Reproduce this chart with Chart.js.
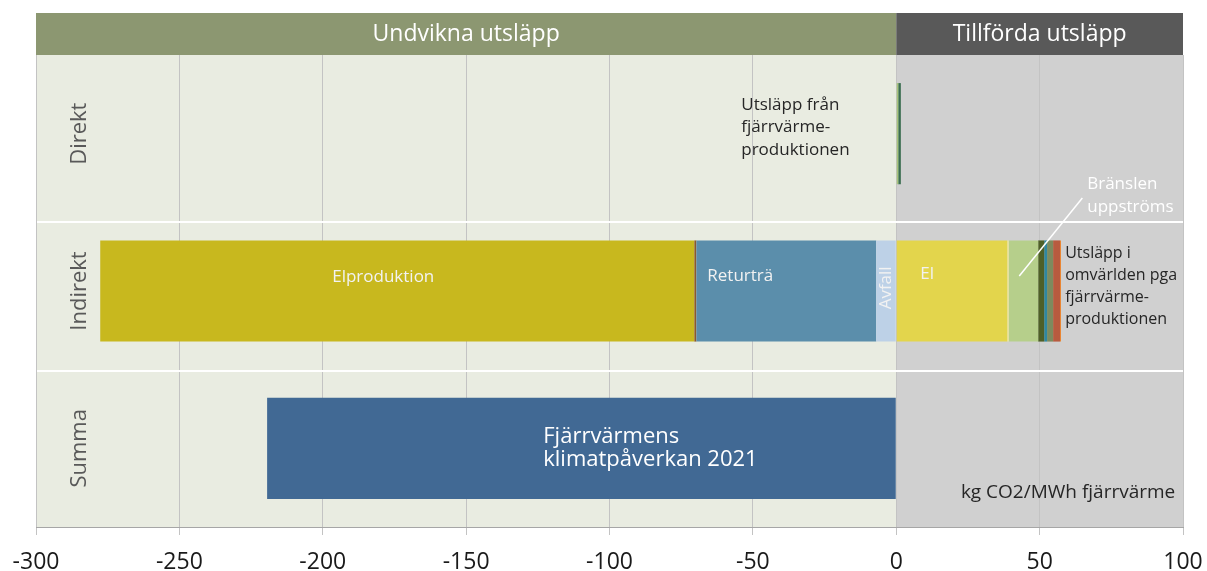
<!DOCTYPE html>
<html lang="sv">
<head>
<meta charset="UTF-8" />
<title>Fjärrvärmens klimatpåverkan 2021</title>
<script src="https://cdn.jsdelivr.net/npm/chart.js"></script>
<style>
  html, body { margin: 0; padding: 0; background: #fff; }
  #wrap { width: 1207px; height: 571px; }
</style>
</head>
<body>
<div id="wrap"><canvas id="chart"></canvas></div>
<script>
// Kategorier (rader)
const categories = ['Direkt', 'Indirekt', 'Summa'];

// Värden i kg CO2/MWh fjärrvärme, en plats per rad
const direktBio      = [0.7, null, null];
const direktFossil   = [0.9, null, null];
const avfall         = [null, -7.0, null];
const returtra       = [null, -62.7, null];
const ovrigtUndvikna = [null, -0.7, null];
const elproduktion   = [null, -207.2, null];
const el             = [null, 38.7, null];
const elOvrigt       = [null, 0.5, null];
const branslen       = [null, 10.3, null];
const ovrigt1        = [null, 2.1, null];
const ovrigt2        = [null, 1.0, null];
const ovrigt3        = [null, 2.1, null];
const ovrigt4        = [null, 2.4, null];
const ovrigt5        = [null, 0.35, null];
const summa          = [null, null, -219.4];

// x-axelns skala
const xMin = -300, xMax = 100, xStep = 50;

const FONT = "'Open Sans', 'Noto Sans', sans-serif";

function ds(label, data, color) {
  return { label, data, backgroundColor: color, borderWidth: 0,
           barPercentage: 0.643, categoryPercentage: 1.0 };
}

// bakgrund, rubrikband, radetiketter och texter
const decor = {
  id: 'decor',
  beforeDraw(chart) {
    const { ctx, chartArea: a, scales: { x } } = chart;
    const x0 = x.getPixelForValue(0);
    ctx.save();
    ctx.fillStyle = '#e9ece1';
    ctx.fillRect(a.left, a.top, x0 - a.left, a.bottom - a.top);
    ctx.fillStyle = '#d0d0d0';
    ctx.fillRect(x0, a.top, a.right - x0, a.bottom - a.top);
    // rubrikband
    const hTop = a.top - 42;
    ctx.fillStyle = '#8c9771';
    ctx.fillRect(a.left, hTop, x0 - a.left, 42);
    ctx.fillStyle = '#595959';
    ctx.fillRect(x0, hTop, a.right - x0, 42);
    ctx.fillStyle = '#ffffff';
    ctx.font = '23px ' + FONT;
    ctx.textAlign = 'center';
    ctx.textBaseline = 'middle';
    ctx.fillText('Undvikna utsläpp', (a.left + x0) / 2, hTop + 21);
    ctx.fillText('Tillförda utsläpp', (x0 + a.right) / 2, hTop + 21);
    ctx.restore();
  },
  afterDatasetsDraw(chart) {
    const { ctx, chartArea: a, scales: { x, y } } = chart;
    ctx.save();
    // vita avdelare mellan raderna
    ctx.strokeStyle = '#ffffff';
    ctx.lineWidth = 2;
    [0.561, 1.508].forEach(v => {
      const py = Math.round(y.getPixelForValue(v));
      ctx.beginPath();
      ctx.moveTo(a.left + 1, py);
      ctx.lineTo(a.right, py);
      ctx.stroke();
    });
    // radetiketter, roterade
    ctx.fillStyle = '#595959';
    ctx.font = '22px ' + FONT;
    ctx.textAlign = 'center';
    ctx.textBaseline = 'middle';
    categories.forEach((c, i) => {
      ctx.save();
      ctx.translate(a.left + 44, y.getPixelForValue(i));
      ctx.rotate(-Math.PI / 2);
      ctx.fillText(c, 0, 0);
      ctx.restore();
    });

    function text(lines, xv, yv, opts) {
      ctx.fillStyle = opts.color;
      ctx.font = (opts.size || 17) + 'px ' + FONT;
      ctx.textAlign = opts.align || 'left';
      ctx.textBaseline = 'middle';
      const px = x.getPixelForValue(xv);
      const py = y.getPixelForValue(yv);
      lines.forEach((l, k) => ctx.fillText(l, px, py + k * (opts.lh || 22.5)));
    }
    text(['Elproduktion'], -178.9, 0.911, { color: '#f2f2f2', align: 'center' });
    text(['Returträ'], -54.4, 0.905, { color: '#f2f2f2', align: 'center' });
    text(['El'], 10.8, 0.89, { color: '#f2f2f2', align: 'center' });
    text(['Utsläpp från', 'fjärrvärme-', 'produktionen'], -54.05, -0.182, { color: '#262626' });
    text(['Bränslen', 'uppströms'], 66.6, 0.32, { color: '#ffffff', lh: 23 });
    text(['Utsläpp i', 'omvärlden pga', 'fjärrvärme-', 'produktionen'], 58.9, 0.764, { color: '#262626', size: 16, lh: 22 });
    text(['Fjärrvärmens', 'klimatpåverkan 2021'], -123.1, 1.928, { color: '#ffffff', size: 22, lh: 23 });
    text(['kg CO2/MWh fjärrvärme'], 97.3, 2.284, { color: '#262626', size: 19, align: 'right' });

    // Avfall, roterad
    ctx.save();
    ctx.fillStyle = '#f2f2f2';
    ctx.font = '17px ' + FONT;
    ctx.textAlign = 'center';
    ctx.textBaseline = 'middle';
    ctx.translate(x.getPixelForValue(-3.5), y.getPixelForValue(0.98));
    ctx.rotate(-Math.PI / 2);
    ctx.fillText('Avfall', 0, 0);
    ctx.restore();

    // hänvisningslinje till Bränslen uppströms
    ctx.strokeStyle = '#ffffff';
    ctx.lineWidth = 1.5;
    ctx.beginPath();
    ctx.moveTo(x.getPixelForValue(64.9), y.getPixelForValue(0.409));
    ctx.lineTo(x.getPixelForValue(42.9), y.getPixelForValue(0.905));
    ctx.stroke();
    ctx.restore();
  }
};

new Chart(document.getElementById('chart'), {
  type: 'bar',
  data: {
    labels: categories,
    datasets: [
      ds('Direkt bio', direktBio, '#a8c47c'),
      ds('Direkt fossil', direktFossil, '#3a6e50'),
      ds('Avfall', avfall, '#bdd1e7'),
      ds('Returträ', returtra, '#5b8eab'),
      ds('Övrigt', ovrigtUndvikna, '#8b5a2b'),
      ds('Elproduktion', elproduktion, '#c8b81e'),
      ds('El', el, '#e3d54c'),
      ds('El övrigt', elOvrigt, '#f3eb9a'),
      ds('Bränslen uppströms', branslen, '#b6cf8b'),
      ds('Övrigt 1', ovrigt1, '#4e5f27'),
      ds('Övrigt 2', ovrigt2, '#2f87a0'),
      ds('Övrigt 3', ovrigt3, '#7d8b5e'),
      ds('Övrigt 4', ovrigt4, '#b85b3f'),
      ds('Övrigt 5', ovrigt5, '#e9842f'),
      ds('Summa', summa, '#416994')
    ]
  },
  options: {
    indexAxis: 'y',
    responsive: true,
    maintainAspectRatio: false,
    animation: false,
    layout: { padding: { top: 55, left: 36, right: 24, bottom: 0 } },
    plugins: { legend: { display: false }, tooltip: { enabled: false } },
    scales: {
      x: {
        stacked: true,
        min: xMin, max: xMax,
        ticks: { stepSize: xStep, padding: 14, color: '#1a1a1a',
                 font: { family: FONT, size: 23 } },
        grid: { color: '#c3c3c3', tickLength: 8, lineWidth: 1 },
        border: { color: '#a6a6a6' },
        afterFit(scale) {
          scale.height = 44;
          scale.paddingLeft = 0;
          scale.paddingRight = 0;
        }
      },
      y: {
        stacked: true,
        display: false
      }
    }
  },
  plugins: [decor]
});
</script>
</body>
</html>
